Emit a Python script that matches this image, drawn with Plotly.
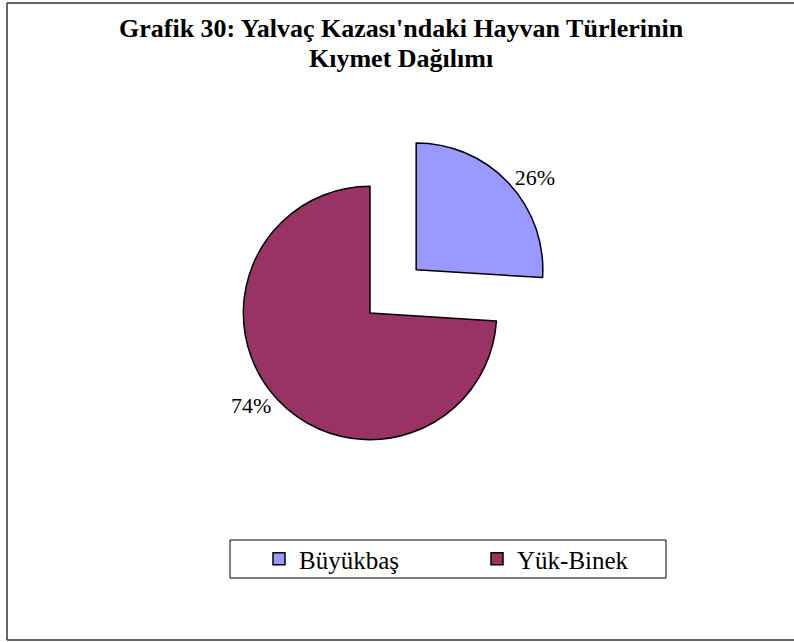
import plotly.graph_objects as go

# data
labels = ["Büyükbaş", "Yük-Binek"]
values = [26, 74]
colors = ["#9999FF", "#993366"]
pulls = [0.5, 0]
title_lines = ["Grafik 30: Yalvaç Kazası'ndaki Hayvan Türlerinin", "Kıymet Dağılımı"]

W, H = 794, 642
FONT = "Liberation Serif"


def px_x(x):
    return x / W


def px_y(y):
    return 1 - y / H


fig = go.Figure()

fig.add_trace(go.Pie(
    labels=labels,
    values=values,
    sort=False,
    direction="clockwise",
    rotation=0,
    pull=pulls,
    marker=dict(colors=colors, line=dict(color="black", width=1.5)),
    texttemplate="%{percent:.0%}",
    textposition="outside",
    textfont=dict(family=FONT, size=22, color="black"),
    hoverinfo="label+percent",
    domain=dict(x=[px_x(180), px_x(560)], y=[px_y(503), px_y(123)]),
))

# title, two lines
for i, line in enumerate(title_lines):
    fig.add_annotation(
        text="<b>" + line + "</b>",
        xref="paper", yref="paper",
        x=px_x(401), y=px_y(28 + 30 * i),
        xanchor="center", yanchor="middle",
        showarrow=False,
        font=dict(family=FONT, size=26, color="black"),
    )

frame = dict(type="line", xref="paper", yref="paper",
             line=dict(color="#333333", width=1.5))

fig.update_layout(
    width=W, height=H,
    margin=dict(l=0, r=0, t=0, b=0),
    paper_bgcolor="white",
    plot_bgcolor="white",
    legend=dict(
        orientation="h",
        x=px_x(259), xanchor="left",
        y=px_y(559), yanchor="middle",
        borderwidth=0,
        bgcolor="rgba(0,0,0,0)",
        font=dict(family=FONT, size=25, color="black"),
        itemwidth=30,
        entrywidth=173,
    ),
    shapes=[
        # outer frame: left, top, bottom (no right edge in the original)
        dict(frame, x0=px_x(7), x1=px_x(7), y0=px_y(640), y1=px_y(3)),
        dict(frame, x0=px_x(7), x1=1, y0=px_y(3), y1=px_y(3)),
        dict(frame, x0=px_x(7), x1=1, y0=px_y(640), y1=px_y(640)),
        # legend frame
        dict(type="rect", xref="paper", yref="paper",
             x0=px_x(230), x1=px_x(666), y0=px_y(578), y1=px_y(540),
             line=dict(color="black", width=1)),
    ],
)

fig.write_html("out.html", config={"displayModeBar": False},
               post_script="document.body.style.margin='0';")
